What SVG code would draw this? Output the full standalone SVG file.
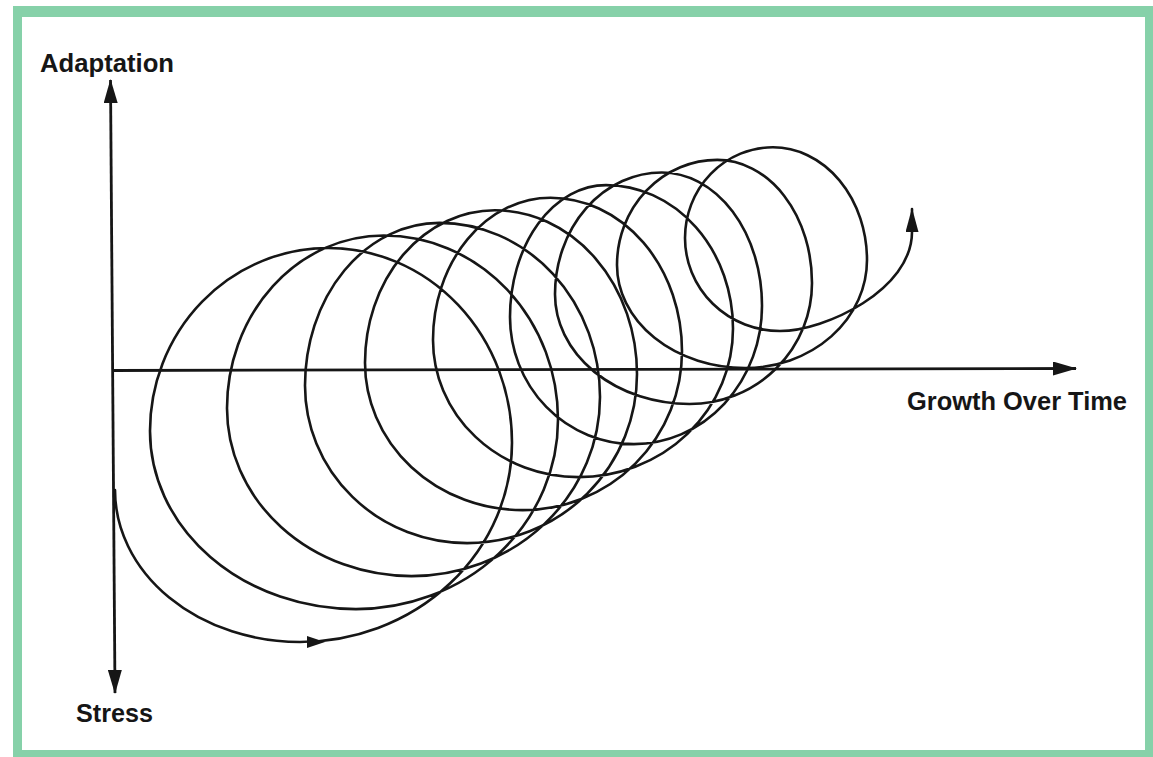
<svg xmlns="http://www.w3.org/2000/svg" width="1153" height="757" viewBox="0 0 1153 757">
<style>
.ln{fill:none;stroke:#161616;stroke-width:2.6;stroke-linecap:round;stroke-linejoin:round}
.ax{fill:none;stroke:#161616;stroke-width:2.8}
.head{fill:#161616}
.lbl{font-family:"Liberation Sans",Arial,Helvetica,sans-serif;font-weight:bold;font-size:25px;fill:#161616}
</style>
<defs>
<marker id="arr" viewBox="0 0 24 14" refX="23" refY="7" markerWidth="24" markerHeight="14" markerUnits="userSpaceOnUse" orient="auto-start-reverse">
<path d="M0,0 L24,7 L0,14 z" fill="#161616"/>
</marker>
<marker id="arrS" viewBox="0 0 24 13" refX="23" refY="6.5" markerWidth="24" markerHeight="13" markerUnits="userSpaceOnUse" orient="auto">
<path d="M0,0 L24,6.5 L0,13 z" fill="#161616"/>
</marker>
</defs>
<g id="frame">
<rect x="13" y="6" width="1140" height="751" fill="#86d1a9"/>
<rect x="22" y="17" width="1123" height="733" fill="#ffffff"/>
</g>
<g id="axes">
<line class="ax" x1="115" y1="693" x2="110.5" y2="80" marker-start="url(#arr)" marker-end="url(#arr)"/>
<line class="ax" x1="113" y1="370.5" x2="1076" y2="368.5" marker-end="url(#arr)"/>
</g>
<g id="spiral">
<path class="ln" marker-end="url(#arrS)" d="M115,490
A185,152 0 0 0 300,642
A212,199.5 0 0 0 512,442.5
A183.9,194.5 0 0 0 328.1,248
A178.1,183.1 0 0 0 150,431.1
A205.9,178 0 0 0 355.9,609.1
A202.1,189.4 0 0 0 558,419.7
A174.3,184.2 0 0 0 383.7,235.5
A156.7,172.8 0 0 0 227,408.3
A184.5,167.8 0 0 0 411.5,576.1
A188.5,179.2 0 0 0 600,396.9
A160.7,174 0 0 0 439.3,222.9
A134.3,162.6 0 0 0 305,385.5
A162.1,157.6 0 0 0 467.1,543.1
A169.9,169 0 0 0 637,374.1
A142.1,163.8 0 0 0 494.9,210.3
A129.9,152.4 0 0 0 365,362.7
A157.7,147.4 0 0 0 522.7,510.1
A159.3,158.8 0 0 0 682,351.3
A131.5,153.6 0 0 0 550.5,197.7
A117.5,142.2 0 0 0 433,339.9
A145.3,137.2 0 0 0 578.3,477.1
A154.7,148.6 0 0 0 733,328.5
A126.9,143.4 0 0 0 606.1,185.1
A96.1,132 0 0 0 510,317.1
A123.9,127 0 0 0 633.9,444.1
A128.1,138.4 0 0 0 762,305.7
A100.3,133.2 0 0 0 661.7,172.5
A106.7,121.8 0 0 0 555,294.3
A134.5,109.7 0 0 0 689.5,404
A122.5,121.1 0 0 0 812,282.9
A94.7,123 0 0 0 717.3,159.9
A100.3,105.1 0 0 0 617,265
A128.1,103 0 0 0 745.1,368
A121.9,107.9 0 0 0 867,260.1
A94.1,112.8 0 0 0 772.9,147.3
A87.9,90.7 0 0 0 685,238
A95,93 0 0 0 780,331
C825,331 912,290 912,232
L912,209"/>
<polygon class="head" points="307,636 325,642 307,648"/>
</g>
<g id="labels">
<text class="lbl" x="40" y="72" textLength="134" lengthAdjust="spacingAndGlyphs">Adaptation</text>
<text class="lbl" x="907" y="410" textLength="220" lengthAdjust="spacingAndGlyphs">Growth Over Time</text>
<text class="lbl" x="76" y="722" textLength="77" lengthAdjust="spacingAndGlyphs">Stress</text>
</g>
</svg>
